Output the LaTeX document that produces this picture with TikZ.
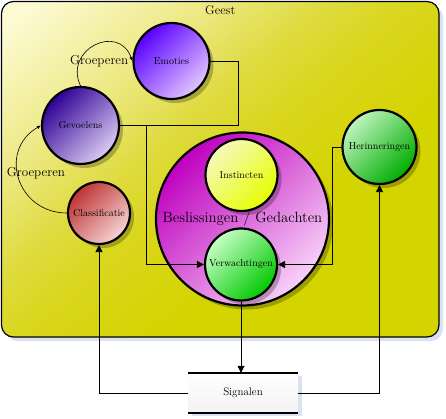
\documentclass[tikz,border=0pt]{standalone}
\usetikzlibrary{positioning,shadows,arrows.meta}
\definecolor{geestA}{HTML}{FCFAD2}
\definecolor{geestB}{HTML}{ECE880}
\definecolor{geestD}{HTML}{DFDB40}
\definecolor{geestM}{HTML}{D9D61C}
\definecolor{geestC}{HTML}{D4D400}
\pgfdeclareverticalshading{geestshade}{100bp}{color(0bp)=(geestC); color(38bp)=(geestC);
    color(50bp)=(geestM); color(58bp)=(geestD); color(67bp)=(geestB); color(82bp)=(geestA); color(100bp)=(geestA)}
\definecolor{shadowblue}{HTML}{D8E2F2}
\definecolor{emoA}{HTML}{5A00FF}
\definecolor{emoB}{HTML}{E2C6FF}
\definecolor{gevA}{HTML}{2E0096}
\definecolor{gevB}{HTML}{DCCCF2}
\definecolor{clsA}{HTML}{BE3434}
\definecolor{clsB}{HTML}{F6D4D4}
\definecolor{bigA}{HTML}{BE00BE}
\definecolor{bigB}{HTML}{F8D2F8}
\definecolor{insA}{HTML}{F6F8BC}
\definecolor{insB}{HTML}{E6FF00}
\definecolor{verA}{HTML}{C6FFC6}
\definecolor{verB}{HTML}{00C800}
\definecolor{herA}{HTML}{BEF4BE}
\definecolor{herB}{HTML}{00AC00}
\begin{document}
\begin{tikzpicture}[x=1pt,y=1pt,
    blob/.style={circle, draw=black, line width=2.2pt, inner sep=0pt,
        drop shadow={shadow xshift=4pt, shadow yshift=-4pt, fill=black, opacity=.25}},
    tint/.style 2 args={top color=#1, bottom color=#2, shading angle=45},
    conn/.style={line width=0.8pt},
    arr/.style={conn, -{Triangle[length=7pt,width=7pt]}},
    curvarr/.style={line width=0.6pt, -{Latex[length=4pt,width=3.5pt]}},
    lbl/.style={font=\fontsize{13}{15}\selectfont, inner sep=0pt}]
    \useasboundingbox (0,0) rectangle (446,-419);

    % Geest
    \node[draw, line width=1.2pt, rounded corners=12pt, minimum width=437.5pt, minimum height=335.5pt,
        shade, shading=geestshade, shading angle=40,
        drop shadow={shadow xshift=4pt, shadow yshift=-4pt, fill=shadowblue, opacity=1}] (geest) at (220.25,-169.25) {};
    \node[font=\fontsize{12.5}{14}\selectfont, below=1pt of geest.north] (geestlbl) {Geest};

    % Circles
    \node[blob, minimum size=76pt, tint={emoA}{emoB}] (emo) at (171.5,-61) {Emoties};
    \node[blob, minimum size=77pt, tint={gevA}{gevB}] (gev) at (80.5,-125.5) {Gevoelens};
    \node[blob, minimum size=62pt, tint={clsA}{clsB}] (cls) at (99,-213) {Classificatie};
    \node[blob, minimum size=173pt, tint={bigA}{bigB}, font=\fontsize{14.8}{17}\selectfont] (big) at (242.5,-219) {Beslissingen / Gedachten};
    \node[blob, minimum size=72pt, tint={insA}{insB}] (ins) at (241.5,-175) {Instincten};
    \node[blob, minimum size=72pt, tint={verA}{verB}] (verw) at (241,-264.5) {Verwachtingen};
    \node[blob, minimum size=74pt, tint={herA}{herB}] (her) at (379.5,-147) {Herinneringen};

    % Signalen
    \node[minimum width=110pt, minimum height=40pt, top color=white, bottom color=gray!10,
        drop shadow={shadow xshift=4pt, shadow yshift=-3pt, fill=shadowblue, opacity=1},
        font=\fontsize{11}{13}\selectfont] (sig) at (243,-393) {Signalen};
    \draw[line width=2pt] (sig.north west) -- (sig.north east) (sig.south west) -- (sig.south east);

    % Groeperen
    \draw[curvarr] (cls.west) to[out=180, in=210, looseness=1.4]
        node[lbl, pos=.55, anchor=west, xshift=-11pt] (grp1) {Groeperen} (gev.west);
    \draw[curvarr] (gev.north) to[out=115, in=110, looseness=1.8] (emo.west);
    \node[lbl, left=4pt of emo.west] (grp2) {Groeperen};

    % Connectors
    \coordinate (merge) at ([xshift=26pt]gev.east);
    \draw[conn] (emo.east) -- ++(28,0) |- (merge);
    \draw[conn] (gev.east) -- (merge);
    \draw[arr] (merge) |- (verw.west);
    \draw[arr] (her.west) -- ++(-9,0) |- (verw.east);
    \draw[arr] (verw.south) -- (verw.south |- sig.north);
    \draw[arr] (sig.west) -| (cls.south);
    \draw[arr] (sig.east) -| (her.south);
\end{tikzpicture}
\end{document}
